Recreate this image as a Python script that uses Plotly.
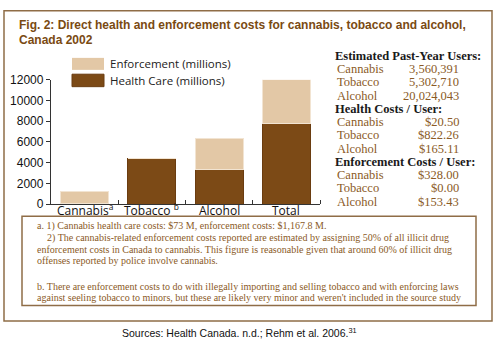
import plotly.graph_objects as go

W, H = 500, 349

categories = ["Cannabis<sup>a</sup>", "Tobacco <sup>b</sup>", "Alcohol", "Total"]
health = [73, 4360, 3306, 7739]
enforcement = [1167.8, 0, 3072, 4240]
yticks = [0, 2000, 4000, 6000, 8000, 10000, 12000]

table_sections = [
    ("Estimated Past-Year Users:", ["Cannabis", "Tobacco", "Alcohol"], ["3,560,391", "5,302,710", "20,024,043"]),
    ("Health Costs / User:", ["Cannabis", "Tobacco", "Alcohol"], ["$20.50", "$822.26", "$165.11"]),
    ("Enforcement Costs / User:", ["Cannabis", "Tobacco", "Alcohol"], ["$328.00", "$0.00", "$153.43"]),
]

footnotes = [
    "a. 1) Cannabis health care costs: $73 M, enforcement costs: $1,167.8 M.",
    "&nbsp;&nbsp;&nbsp;&nbsp;2) The cannabis-related enforcement costs reported are estimated by assigning 50% of all illicit drug",
    "enforcement costs in Canada to cannabis. This figure is reasonable given that around 60% of illicit drug",
    "offenses reported by police involve cannabis.",
    "b. There are enforcement costs to do with illegally importing and selling tobacco and with enforcing laws",
    "against seeling tobacco to minors, but these are likely very minor and weren't included in the source study",
]
footnote_rows = [228.5, 240.5, 252.5, 264.5, 291, 302.5]

C_ENF = "#E3C8A6"
C_HEALTH = "#7C4A16"
C_FRAME = "#8F6D47"
C_TEXT = "#8A5A26"
C_TITLE = "#7A4A12"


def px(x):
    return x / W


def py(y):
    return 1 - y / H


xs = list(range(len(categories)))
fig = go.Figure()
fig.add_trace(go.Bar(x=xs, y=health, name="Health Care (millions)", width=0.715,
                     marker=dict(color=C_HEALTH, line=dict(color="#6A3C10", width=1))))
fig.add_trace(go.Bar(x=xs, y=enforcement, name="Enforcement (millions)", width=0.715,
                     marker=dict(color=C_ENF, line=dict(color="#F2E4D2", width=1))))

shapes = []
annotations = []

# outer frame
shapes.append(dict(type="rect", xref="paper", yref="paper", x0=px(4), x1=px(492), y0=py(4), y1=py(327),
                   line=dict(color=C_FRAME, width=1.5)))
# footnote box
shapes.append(dict(type="rect", xref="paper", yref="paper", x0=px(22), x1=px(476), y0=py(218), y1=py(311),
                   line=dict(color=C_FRAME, width=1.5)))

# legend swatches
shapes.append(dict(type="rect", xref="paper", yref="paper", x0=px(72), x1=px(104), y0=py(53), y1=py(65.5),
                   fillcolor=C_ENF, line=dict(width=0)))
shapes.append(dict(type="rect", xref="paper", yref="paper", x0=px(72), x1=px(104), y0=py(70), y1=py(83),
                   fillcolor=C_HEALTH, line=dict(color="#6A3C10", width=1)))
annotations.append(dict(xref="paper", yref="paper", x=px(108), y=py(59), text="Enforcement (millions)",
                        showarrow=False, xanchor="left", yanchor="middle",
                        font=dict(family="Open Sans", size=11.5, color="#222")))
annotations.append(dict(xref="paper", yref="paper", x=px(108), y=py(76.5), text="Health Care (millions)",
                        showarrow=False, xanchor="left", yanchor="middle",
                        font=dict(family="Open Sans", size=11.5, color="#222")))

# category labels
for xv, lab in zip(xs, categories):
    annotations.append(dict(xref="x", yref="paper", x=xv, y=py(212), text=lab,
                            showarrow=False, xanchor="center", yanchor="middle",
                            font=dict(family="Open Sans", size=12, color="#111")))

# title
annotations.append(dict(xref="paper", yref="paper", x=px(17), y=py(19),
                        text="<b>Fig. 2: Direct health and enforcement costs for cannabis, tobacco and alcohol,</b>",
                        showarrow=False, xanchor="left", yanchor="middle",
                        font=dict(family="Liberation Sans", size=12, color=C_TITLE)))
annotations.append(dict(xref="paper", yref="paper", x=px(17), y=py(34), text="<b>Canada 2002</b>",
                        showarrow=False, xanchor="left", yanchor="middle",
                        font=dict(family="Liberation Sans", size=12, color=C_TITLE)))

# right table
yrow = 51
for head, labels, vals in table_sections:
    annotations.append(dict(xref="paper", yref="paper", x=px(333), y=py(yrow), text="<b>" + head + "</b>",
                            showarrow=False, xanchor="left", yanchor="middle",
                            font=dict(family="Liberation Serif", size=12.5, color="#1a1a1a")))
    yrow += 13.8
    for lab, val in zip(labels, vals):
        annotations.append(dict(xref="paper", yref="paper", x=px(335), y=py(yrow), text=lab,
                                showarrow=False, xanchor="left", yanchor="middle",
                                font=dict(family="Liberation Serif", size=12.5, color=C_TEXT)))
        annotations.append(dict(xref="paper", yref="paper", x=px(461), y=py(yrow), text=val,
                                showarrow=False, xanchor="right", yanchor="middle",
                                font=dict(family="Liberation Serif", size=12.5, color=C_TEXT)))
        yrow += 13.8

# footnotes
for line, yl in zip(footnotes, footnote_rows):
    annotations.append(dict(xref="paper", yref="paper", x=px(35), y=py(yl), text=line,
                            showarrow=False, xanchor="left", yanchor="middle",
                            font=dict(family="Liberation Serif", size=10, color=C_TEXT)))

# sources
annotations.append(dict(xref="paper", yref="paper", x=px(239), y=py(339),
                        text="Sources: Health Canada. n.d.; Rehm et al. 2006.<sup>31</sup>",
                        showarrow=False, xanchor="center", yanchor="middle",
                        font=dict(family="Liberation Sans", size=10.5, color="#111")))

fig.update_layout(
    width=W, height=H,
    margin=dict(l=0, r=0, t=0, b=0),
    paper_bgcolor="white", plot_bgcolor="white",
    barmode="stack", showlegend=False,
    shapes=shapes, annotations=annotations,
    xaxis=dict(domain=[px(51), px(320)], range=[-0.5, 3.5], tickvals=xs, showticklabels=False,
               ticks="", showline=True, linecolor="#333", linewidth=1.3, showgrid=False, zeroline=False,
               minor=dict(tickvals=[0.5, 1.5, 2.5, 3.5], ticks="inside", ticklen=4, tickcolor="#333",
                          tickwidth=1.2, showgrid=False)),
    yaxis=dict(domain=[py(205.5), py(75.7)], range=[0, 12000], tickvals=yticks, tickformat="d",
               ticks="outside", ticklen=4, tickcolor="#333", tickwidth=1.2,
               showline=True, linecolor="#333", linewidth=1.3, showgrid=False, zeroline=False,
               tickfont=dict(family="Liberation Sans", size=12, color="#111")),
)

fig.write_html("out.html")
